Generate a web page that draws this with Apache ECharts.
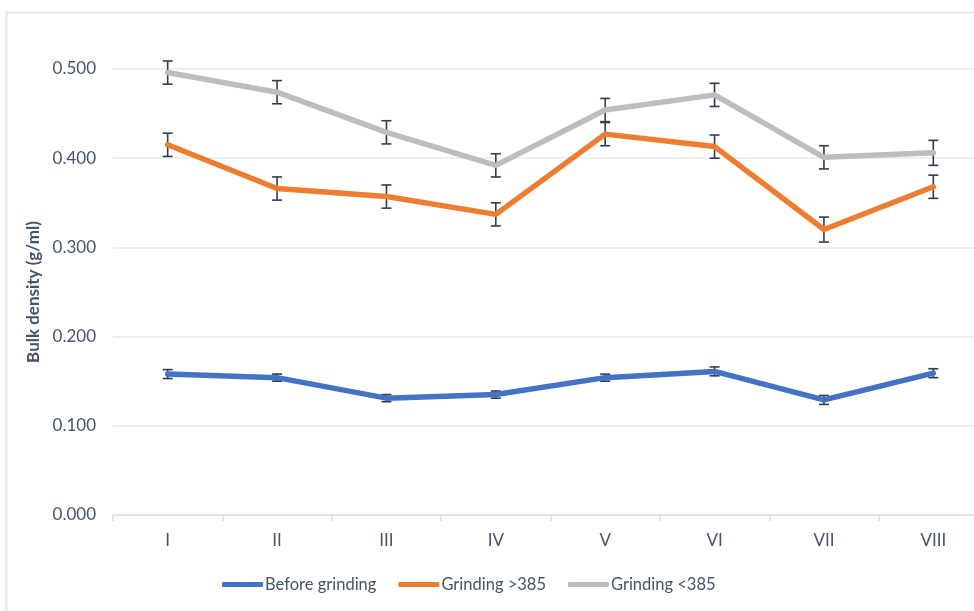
<!DOCTYPE html>
<html>
<head>
<meta charset="utf-8">
<script src="https://cdn.jsdelivr.net/npm/echarts@6/dist/echarts.min.js"></script>
<style>
  html, body { margin: 0; padding: 0; background: #fff; }
  #chart { width: 974px; height: 611px; }
</style>
</head>
<body>
<div id="chart"></div>
<script>
// categories and values
const categories = ['I', 'II', 'III', 'IV', 'V', 'VI', 'VII', 'VIII'];
const seriesNames = ['Before grinding', 'Grinding >385', 'Grinding <385'];

const beforeGrinding = [0.158, 0.154, 0.131, 0.135, 0.154, 0.161, 0.129, 0.159];
const grindingAbove = [0.415, 0.366, 0.357, 0.337, 0.427, 0.413, 0.320, 0.368];
const grindingBelow = [0.496, 0.474, 0.429, 0.392, 0.454, 0.471, 0.401, 0.406];

// error (± standard deviation)
const errBefore = [0.005, 0.004, 0.004, 0.004, 0.004, 0.005, 0.005, 0.005];
const errAbove = [0.013, 0.013, 0.013, 0.013, 0.013, 0.013, 0.014, 0.013];
const errBelow = [0.013, 0.013, 0.013, 0.013, 0.013, 0.013, 0.013, 0.014];

const colors = ['#4472C4', '#ED7D31', '#BDBDBD'];
const textColor = '#44546A';
const errColor = '#2F3C50';

function errData(vals, errs) {
  return vals.map((v, i) => [i, v - errs[i], v + errs[i]]);
}

function renderErr(params, api) {
  const x = api.value(0);
  const lo = api.coord([x, api.value(1)]);
  const hi = api.coord([x, api.value(2)]);
  const half = 5;
  const style = { stroke: errColor, lineWidth: 1.6, fill: null };
  return {
    type: 'group',
    children: [
      { type: 'line', shape: { x1: lo[0], y1: lo[1], x2: hi[0], y2: hi[1] }, style: style },
      { type: 'line', shape: { x1: hi[0] - half, y1: hi[1], x2: hi[0] + half, y2: hi[1] }, style: style },
      { type: 'line', shape: { x1: lo[0] - half, y1: lo[1], x2: lo[0] + half, y2: lo[1] }, style: style }
    ]
  };
}

function lineSeries(name, data, color) {
  return {
    name: name,
    type: 'line',
    data: data,
    symbol: 'none',
    z: 3,
    lineStyle: { color: color, width: 5.5, cap: 'round', join: 'round' },
    itemStyle: { color: color }
  };
}

function errSeries(data) {
  return {
    type: 'custom',
    renderItem: renderErr,
    data: data,
    z: 2,
    silent: true,
    encode: { x: 0, y: [1, 2] }
  };
}

const myChart = echarts.init(document.getElementById('chart'));
myChart.setOption({
  animation: false,
  backgroundColor: '#fff',
  textStyle: { fontFamily: 'Lato' },
  graphic: [{
    type: 'rect',
    shape: { x: 6.5, y: 12.5, width: 1100, height: 700 },
    style: { fill: null, stroke: '#E3E6EA', lineWidth: 2 },
    silent: true
  }],
  grid: { left: 113, top: 69, width: 875, height: 446, outerBoundsMode: 'none', containLabel: false },
  legend: {
    data: seriesNames,
    bottom: 18,
    left: 222,
    padding: 0,
    itemWidth: 41,
    itemHeight: 5,
    itemGap: 22,
    icon: 'roundRect',
    textStyle: { color: textColor, fontSize: 16.5, padding: [0, 0, 0, -3] }
  },
  xAxis: {
    type: 'category',
    data: categories,
    boundaryGap: true,
    axisLine: { lineStyle: { color: '#D9DEE6', width: 1.5 } },
    axisTick: { show: true, length: 6, lineStyle: { color: '#D9DEE6', width: 1.5 } },
    axisLabel: { color: textColor, fontSize: 17, margin: 17 }
  },
  yAxis: {
    type: 'value',
    min: 0,
    max: 0.5,
    interval: 0.1,
    name: 'Bulk density (g/ml)',
    nameLocation: 'middle',
    nameGap: 71,
    nameTextStyle: { color: textColor, fontSize: 17, fontWeight: 'bold' },
    axisLine: { show: false },
    axisTick: { show: false },
    axisLabel: {
      color: textColor,
      fontSize: 17,
      margin: 17,
      formatter: v => v.toFixed(3)
    },
    splitLine: { lineStyle: { color: '#E6EAF0', width: 1.5 } }
  },
  series: [
    errSeries(errData(beforeGrinding, errBefore)),
    errSeries(errData(grindingAbove, errAbove)),
    errSeries(errData(grindingBelow, errBelow)),
    lineSeries(seriesNames[0], beforeGrinding, colors[0]),
    lineSeries(seriesNames[1], grindingAbove, colors[1]),
    lineSeries(seriesNames[2], grindingBelow, colors[2])
  ]
});
</script>
</body>
</html>
